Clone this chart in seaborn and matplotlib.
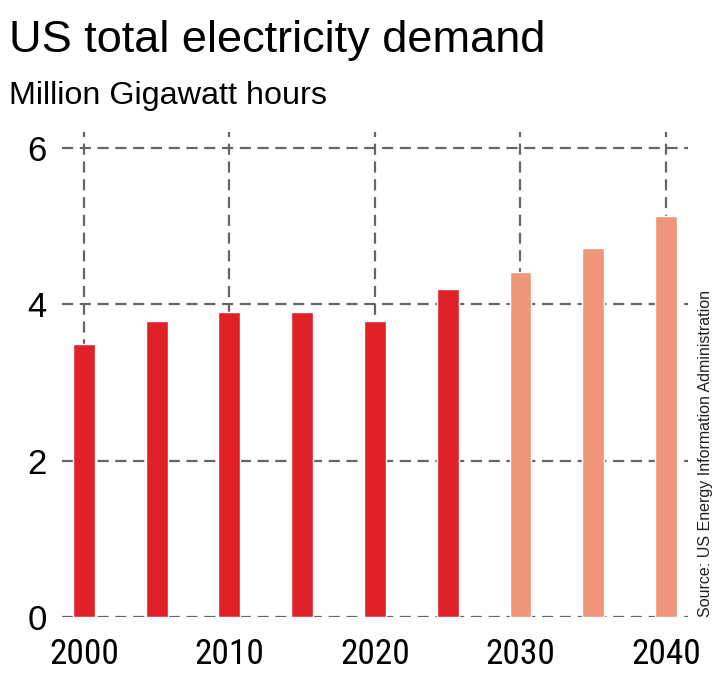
import matplotlib
matplotlib.use('Agg')
import matplotlib.pyplot as plt
import seaborn as sns
import pandas as pd
from matplotlib import font_manager

# data
years = [2000, 2005, 2010, 2015, 2020, 2025, 2030, 2035, 2040]
demand = [3.49, 3.79, 3.90, 3.90, 3.79, 4.19, 4.41, 4.72, 5.13]
kind = ['actual'] * 6 + ['projected'] * 3
xticks = [2000, 2010, 2020, 2030, 2040]
yticks = [0, 2, 4, 6]

colors = {'actual': '#e02128', 'projected': '#ef967a'}

df = pd.DataFrame({'year': years, 'demand': demand, 'kind': kind})

sns.set_theme(style='white')
plt.rcParams['font.family'] = ['Liberation Sans', 'DejaVu Sans']
plt.rcParams['text.color'] = 'black'

names = sorted({f.name for f in font_manager.fontManager.ttflist})
narrow = None
for n in ['Liberation Sans Narrow', 'Roboto Condensed', 'Open Sans Condensed', 'DejaVu Sans Condensed']:
    if n in names:
        narrow = n
        break

fig = plt.figure(figsize=(7.21, 6.93), dpi=100)
ax = fig.add_axes([0.086, 0.1097, 0.868, 0.6998])

sns.barplot(data=df, x='year', y='demand', hue='kind', palette=colors,
            native_scale=True, width=0.3, dodge=False, legend=False,
            saturation=1, ax=ax, zorder=3)

ax.set_xlim(1998.5, 2041.5)
ax.set_ylim(0, 6.2)
ax.set_xticks(xticks)
ax.set_yticks(yticks)
if narrow:
    ax.set_xticklabels([str(y) for y in xticks], fontsize=25.5, family=narrow)
else:
    ax.set_xticklabels([str(y) for y in xticks], fontsize=23)
ax.set_yticklabels([str(v) for v in yticks], fontsize=25)
ax.tick_params(axis='both', colors='#555555', labelcolor='black', length=6, width=1.5)
ax.tick_params(axis='y', pad=5)
ax.tick_params(axis='x', pad=9)
ax.set_xlabel('')
ax.set_ylabel('')
for s in ax.spines.values():
    s.set_visible(False)

ax.grid(True, axis='both', color='#666666', linestyle=(0, (5, 3)), linewidth=1.6, zorder=0)
ax.set_axisbelow(True)

fig.text(0.012, 0.942, 'US total electricity demand', fontsize=32.5, ha='left', va='center')
fig.text(0.012, 0.862, 'Million Gigawatt hours', fontsize=23.3, ha='left', va='center')
fig.text(0.978, 0.109, 'Source: US Energy Information Administration', fontsize=11.5,
         rotation=90, ha='center', va='bottom', color='#222222')

fig.savefig('out.png', dpi=100)
